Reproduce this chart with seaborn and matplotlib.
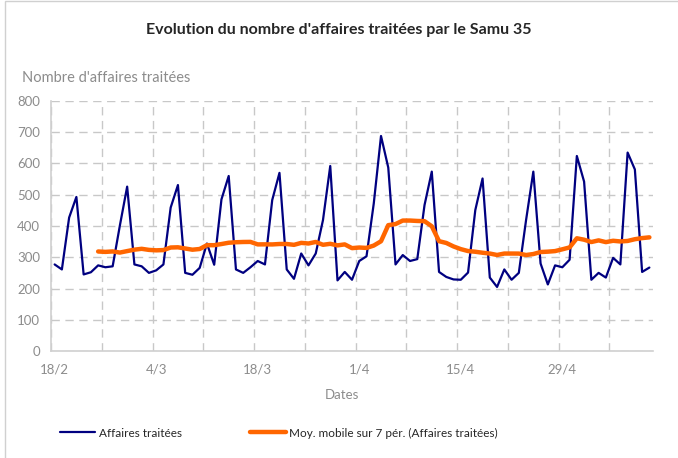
import pandas as pd
import numpy as np
import matplotlib
matplotlib.use("Agg")
import matplotlib.pyplot as plt
import seaborn as sns
from matplotlib.patches import Rectangle

# Daily values (18/2 -> 11/5)
start_date = "2019-02-18"
affaires = [
    277, 261, 427, 493, 245, 252, 274,
    268, 271, 402, 526, 277, 271, 250,
    258, 277, 459, 531, 250, 244, 266,
    344, 276, 485, 560, 261, 250, 268,
    288, 277, 483, 570, 261, 231, 312,
    274, 312, 419, 592, 226, 253, 228,
    288, 303, 472, 688, 587, 277, 307,
    288, 294, 467, 574, 253, 237, 229,
    228, 251, 451, 552, 235, 205, 261,
    228, 250, 419, 574, 280, 213, 274,
    268, 292, 624, 542, 228, 250, 235,
    298, 277, 635, 581, 253, 267,
]
window = 7

dates = pd.date_range(start_date, periods=len(affaires), freq="D")
df = pd.DataFrame({"jour": np.arange(len(affaires)), "affaires": affaires})
df["moy"] = df["affaires"].rolling(window).mean()

sns.set_style("white")
plt.rcParams["font.family"] = ["Lato", "DejaVu Sans"]

grey = "#8c8c8c"
fig = plt.figure(figsize=(6.78, 4.58), dpi=100)
ax = fig.add_axes([51 / 678, 1 - 351 / 458, 602 / 678, 250 / 458])

sns.lineplot(data=df, x="jour", y="affaires", ax=ax, color="#000080",
             linewidth=1.6, label="Affaires traitées")
sns.lineplot(data=df.dropna(), x="jour", y="moy", ax=ax, color="#FF6600",
             linewidth=3.2, label="Moy. mobile sur 7 pér. (Affaires traitées)")

ax.set_xlim(-0.5, len(affaires) - 0.5)
ax.set_ylim(0, 800)
ax.set_yticks(range(0, 801, 100))

major = np.arange(0, len(affaires), 14)
ax.set_xticks(major)
ax.set_xticklabels([f"{dates[i].day}/{dates[i].month}" for i in major])
ax.set_xticks(np.arange(-0.5, len(affaires), 7), minor=True)
ax.tick_params(axis="both", which="both", length=0, colors=grey, labelsize=9.5)
ax.tick_params(axis="x", pad=9)
ax.tick_params(axis="y", pad=8)

ax.grid(True, axis="y", which="major", color="#c8c8c8", linestyle=(0, (6, 4)), linewidth=1)
ax.grid(True, axis="x", which="minor", color="#c8c8c8", linestyle=(0, (6, 4)), linewidth=1)
ax.grid(False, axis="x", which="major")

for side in ["top", "right"]:
    ax.spines[side].set_visible(False)
for side in ["left", "bottom"]:
    ax.spines[side].set_color("#d0d0d0")
    ax.spines[side].set_linewidth(1.2)

ax.set_xlabel("Dates", color=grey, fontsize=9.5, va="center")
ax.xaxis.set_label_coords(291 / 602, -44 / 250)
ax.set_ylabel("Nombre d'affaires traitées", color=grey, fontsize=10.5,
              rotation=0, ha="left", va="center")
ax.yaxis.set_label_coords(-29 / 602, 1 + 23 / 250)

fig.suptitle("Evolution du nombre d'affaires traitées par le Samu 35",
             x=0.5, y=1 - 30 / 458, va="center", fontsize=11.5, fontweight="bold")

ax.get_legend().remove()
handles, labels = ax.get_legend_handles_labels()
fig.legend(handles, labels, loc="center", bbox_to_anchor=(279 / 678, 1 - 433 / 458),
           ncol=2, frameon=False, fontsize=8.5, columnspacing=5.8,
           handlelength=3.0, handletextpad=0.3)

fig.patches.append(Rectangle((5 / 678, -0.05), 1.2, 1.05 - 1 / 458,
                             transform=fig.transFigure, fill=False,
                             edgecolor="#d0d0d0", linewidth=1))

fig.savefig("out.png", dpi=100)
